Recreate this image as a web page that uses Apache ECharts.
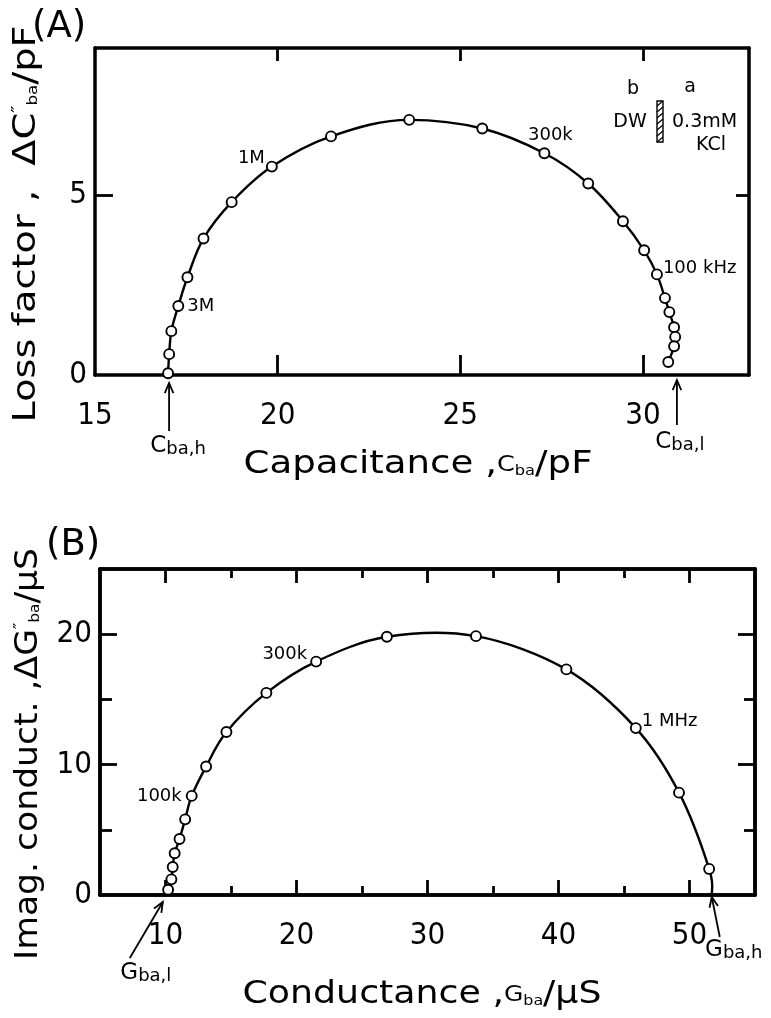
<!DOCTYPE html>
<html>
<head>
<meta charset="utf-8">
<script src="https://cdn.jsdelivr.net/npm/echarts@6/dist/echarts.min.js"></script>
<style>
  html, body { margin: 0; padding: 0; background: #fff; }
  #chart { width: 771px; height: 1018px; }
</style>
</head>
<body>
<div id="chart"></div>
<script>
// (A) capacitance vs loss factor (Cole-Cole type arc)
const capA  = [17.0, 17.03, 17.09, 17.28, 17.53, 17.97, 18.74, 19.84, 21.46, 23.6, 25.6, 27.3, 28.5, 29.45, 30.03, 30.38, 30.6, 30.72, 30.85, 30.88, 30.85, 30.69];
const lossA = [0.05, 0.58, 1.22, 1.92, 2.72, 3.8, 4.81, 5.8, 6.64, 7.1, 6.86, 6.17, 5.33, 4.28, 3.47, 2.8, 2.14, 1.75, 1.33, 1.06, 0.8, 0.36];
const freqA = { 3: '3M', 7: '1M', 11: '300k', 15: '100 kHz' };
const cbaH = 17.0, cbaL = 30.9;

// (B) conductance vs imaginary conductance
const condB = [10.2, 10.45, 10.55, 10.7, 11.07, 11.5, 12.0, 13.1, 14.65, 17.7, 21.5, 26.9, 33.7, 40.6, 45.9, 49.2, 51.5];
const imagB = [0.4, 1.2, 2.15, 3.2, 4.3, 5.8, 7.6, 9.85, 12.5, 15.5, 17.9, 19.8, 19.85, 17.3, 12.8, 7.85, 2.0];
const freqB = { 6: '100k', 10: '300k', 14: '1 MHz' };
const gbaL = 10.1, gbaH = 51.7;

// tick / label values
const ticksAx = [20, 25, 30], labelsAx = [15, 20, 25, 30];
const ticksAy = [5], labelsAy = [0, 5];
const majorBx = [10, 20, 30, 40, 50], minorBx = [15, 25, 35, 45];
const majorBy = [10, 20], minorBy = [5, 15], labelsBy = [0, 10, 20];

const numFont = "'Liberation Sans Narrow','DejaVu Sans Condensed','Liberation Sans',sans-serif";
const txtFont = "'DejaVu Sans',sans-serif";

function mkAxis(grid, pos, min, max, ticks, len, labels, margin) {
  return {
    type: 'value', gridIndex: grid, position: pos, min: min, max: max,
    splitLine: { show: false },
    axisLine: { show: true, onZero: false, lineStyle: { color: '#000', width: 3.5 } },
    axisTick: { show: true, inside: true, length: len, customValues: ticks, lineStyle: { color: '#000', width: 2.8 } },
    axisLabel: labels
      ? { show: true, customValues: labels, color: '#000', fontSize: 31, fontFamily: numFont, margin: margin }
      : { show: false }
  };
}

// label placement for the frequency tags
const tagPos = {
  '3M': { position: 'right', distance: 3 },
  '1M': { position: 'left', distance: 3, offset: [2, -8] },
  '300k': { position: 'top', distance: 3, offset: [6, 0] },
  '100 kHz': { position: 'right', distance: 0, offset: [0, -6] },
  '100k': { position: 'left', distance: 4 },
  'B300k': { position: 'left', distance: 3, offset: [0, -7] },
  '1 MHz': { position: 'right', distance: 0, offset: [0, -7] }
};

const dataA = capA.map((x, i) => {
  const d = { value: [x, lossA[i]] };
  if (freqA[i]) d.label = Object.assign({ show: true, formatter: freqA[i] }, tagPos[freqA[i]]);
  return d;
});

const dataB = condB.map((x, i) => {
  const d = { value: [x, imagB[i]] };
  if (freqB[i]) {
    const key = freqB[i] === '300k' ? 'B300k' : freqB[i];
    d.label = Object.assign({ show: true, formatter: freqB[i] }, tagPos[key]);
  }
  return d;
});
// the drawn arc runs from Gba,l to Gba,h on the axis through the measured points
const curveB = [[gbaL, 0]].concat(condB.map((x, i) => [x, imagB[i]]), [[gbaH, 0]]);

const chart = echarts.init(document.getElementById('chart'));

const markerStyle = {
  symbol: 'circle', symbolSize: 10,
  itemStyle: { color: '#fff', borderColor: '#000', borderWidth: 1.9, opacity: 1 },
  label: { color: '#000', fontSize: 18, fontFamily: txtFont, opacity: 1 },
  emphasis: { disabled: true }
};

// spline through the points in pixel space (no overshoot clamp, so the arc top stays round)
function renderArc(params, api) {
  if (params.dataIndex !== 0) return null;
  const pts = curveB.map(p => api.coord(p));
  const children = [];
  for (let i = 0; i < pts.length - 1; i++) {
    const p0 = pts[Math.max(i - 1, 0)], p1 = pts[i], p2 = pts[i + 1], p3 = pts[Math.min(i + 2, pts.length - 1)];
    children.push({
      type: 'bezierCurve',
      shape: {
        x1: p1[0], y1: p1[1], x2: p2[0], y2: p2[1],
        cpx1: p1[0] + (p2[0] - p0[0]) / 6, cpy1: p1[1] + (p2[1] - p0[1]) / 6,
        cpx2: p2[0] - (p3[0] - p1[0]) / 6, cpy2: p2[1] - (p3[1] - p1[1]) / 6
      },
      style: { stroke: '#000', lineWidth: 2.4, fill: null }
    });
  }
  return { type: 'group', children: children };
}

chart.setOption({
  animation: false,
  backgroundColor: '#fff',
  grid: [
    { left: 95, top: 48, width: 654, height: 327 },
    { left: 100, top: 569, width: 655, height: 326 }
  ],
  xAxis: [
    mkAxis(0, 'bottom', 15, 32.9, ticksAx, 20, labelsAx, 25),
    mkAxis(0, 'top', 15, 32.9, ticksAx, 13),
    mkAxis(1, 'bottom', 5, 55, majorBx, 15, majorBx, 25),
    mkAxis(1, 'bottom', 5, 55, minorBx, 9),
    mkAxis(1, 'top', 5, 55, majorBx, 14),
    mkAxis(1, 'top', 5, 55, minorBx, 9)
  ],
  yAxis: [
    mkAxis(0, 'left', 0, 9.1, ticksAy, 18, labelsAy, 8),
    mkAxis(0, 'right', 0, 9.1, ticksAy, 13),
    mkAxis(1, 'left', 0, 25, majorBy, 17, labelsBy, 8),
    mkAxis(1, 'left', 0, 25, minorBy, 12),
    mkAxis(1, 'right', 0, 25, majorBy, 17),
    mkAxis(1, 'right', 0, 25, minorBy, 11)
  ],
  series: [
    Object.assign({
      type: 'line', xAxisIndex: 0, yAxisIndex: 0, smooth: 0.35, showAllSymbol: true,
      lineStyle: { color: '#000', width: 2.4 }, data: dataA
    }, markerStyle),
    {
      type: 'custom', xAxisIndex: 2, yAxisIndex: 2, silent: true, z: 2,
      renderItem: renderArc, data: curveB
    },
    Object.assign({ type: 'scatter', xAxisIndex: 2, yAxisIndex: 2, z: 3, data: dataB }, markerStyle)
  ]
});

// ---------- annotations ----------
const ctx = document.createElement('canvas').getContext('2d');
function segWidth(segs) {
  let w = 0;
  segs.forEach(s => { ctx.font = s[1] + 'px DejaVu Sans'; w += ctx.measureText(s[0]).width; });
  return w;
}

// title made of [text, size, style] pieces, stretched to a target width
function title(segs, target, x, y, rot) {
  const rich = {};
  let text = '';
  segs.forEach((s, i) => {
    const k = 't' + i;
    const st = { fontSize: s[1], fontFamily: txtFont, color: '#000' };
    if (s[2] === 'sub') st.padding = [12, 0, 0, 0];
    if (s[2] === 'sup') st.padding = [0, 0, 16, 0];
    rich[k] = st;
    text += '{' + k + '|' + s[0] + '}';
  });
  const sc = target / segWidth(segs);
  return {
    type: 'text', x: x, y: y, rotation: rot || 0, scaleX: sc, z: 10,
    style: { text: text, rich: rich, align: 'center', verticalAlign: 'middle', fill: '#000' }
  };
}

function subLabel(main, sub, x, y) {
  return {
    type: 'text', x: x, y: y, z: 10,
    style: {
      text: '{m|' + main + '}{s|' + sub + '}', align: 'center', verticalAlign: 'middle',
      rich: {
        m: { fontSize: 23, fontFamily: txtFont, color: '#000' },
        s: { fontSize: 18, fontFamily: txtFont, color: '#000', padding: [6, 0, 0, 0] }
      }
    }
  };
}

function arrow(x1, y1, x2, y2) {
  const a = Math.atan2(y2 - y1, x2 - x1), h = 11, w = 0.4;
  return [
    { type: 'line', z: 10, shape: { x1: x1, y1: y1, x2: x2, y2: y2 }, style: { stroke: '#000', lineWidth: 1.8 } },
    { type: 'polyline', z: 10,
      shape: { points: [[x2 - h * Math.cos(a - w), y2 - h * Math.sin(a - w)], [x2, y2], [x2 - h * Math.cos(a + w), y2 - h * Math.sin(a + w)]] },
      style: { stroke: '#000', lineWidth: 1.8, fill: null } }
  ];
}

function txt(s, x, y, size, align) {
  return { type: 'text', x: x, y: y, z: 10,
    style: { text: s, fontSize: size || 19, fontFamily: txtFont, fill: '#000', align: align || 'center', verticalAlign: 'middle' } };
}

const pA = v => chart.convertToPixel({ xAxisIndex: 0, yAxisIndex: 0 }, [v, 0]);
const pB = v => chart.convertToPixel({ xAxisIndex: 2, yAxisIndex: 2 }, [v, 0]);

const g = [];
// panel letters
g.push(txt('(A)', 32, 27, 37, 'left'));
g.push(txt('(B)', 46, 545, 37, 'left'));

// axis titles
g.push(title([['Capacitance ,', 32], ['C', 22], ['ba', 14, 'sub'], ['/pF', 32]], 349, 418, 465));
g.push(title([['Loss factor ,  ΔC', 32], ['″', 16, 'sup'], ['ba', 14, 'sub'], ['/pF', 32]], 397, 27, 224, Math.PI / 2));
g.push(title([['Conductance ,', 32], ['G', 22], ['ba', 14, 'sub'], ['/μS', 32]], 359, 422, 995));
g.push(title([['Imag. conduct. ,ΔG', 32], ['″', 16, 'sup'], ['ba', 14, 'sub'], ['/μS', 32]], 412, 29, 754, Math.PI / 2));

// limit arrows
let t = pA(cbaH);
g.push(...arrow(t[0] + 1, t[1] + 56, t[0] + 1, t[1] + 8));
g.push(subLabel('C', 'ba,h', t[0] + 10, t[1] + 71));
t = pA(cbaL);
g.push(...arrow(t[0] + 1, t[1] + 50, t[0] + 1, t[1] + 5));
g.push(subLabel('C', 'ba,l', t[0] + 4, t[1] + 67));
t = pB(gbaL);
g.push(...arrow(t[0] - 37, t[1] + 63, t[0] - 4, t[1] + 7));
g.push(subLabel('G', 'ba,l', t[0] - 21, t[1] + 78));
t = pB(gbaH);
g.push(...arrow(t[0] + 8, t[1] + 42, t[0], t[1] + 2));
g.push(subLabel('G', 'ba,h', t[0] + 22, t[1] + 55));

// membrane inset (b | a)
g.push(txt('b', 633, 89));
g.push(txt('a', 690, 87));
g.push(txt('DW', 630, 122));
g.push(txt('0.3mM', 672, 122, 19, 'left'));
g.push(txt('KCl', 711, 145));
g.push({ type: 'rect', z: 10, shape: { x: 657, y: 101, width: 6, height: 41 }, style: { fill: '#fff', stroke: '#000', lineWidth: 1.4 } });
for (let i = 0; i < 7; i++) {
  g.push({ type: 'line', z: 10, shape: { x1: 657, y1: 106 + i * 6, x2: 663, y2: 101 + i * 6 }, style: { stroke: '#000', lineWidth: 1.2 } });
}

chart.setOption({ graphic: g });
</script>
</body>
</html>
